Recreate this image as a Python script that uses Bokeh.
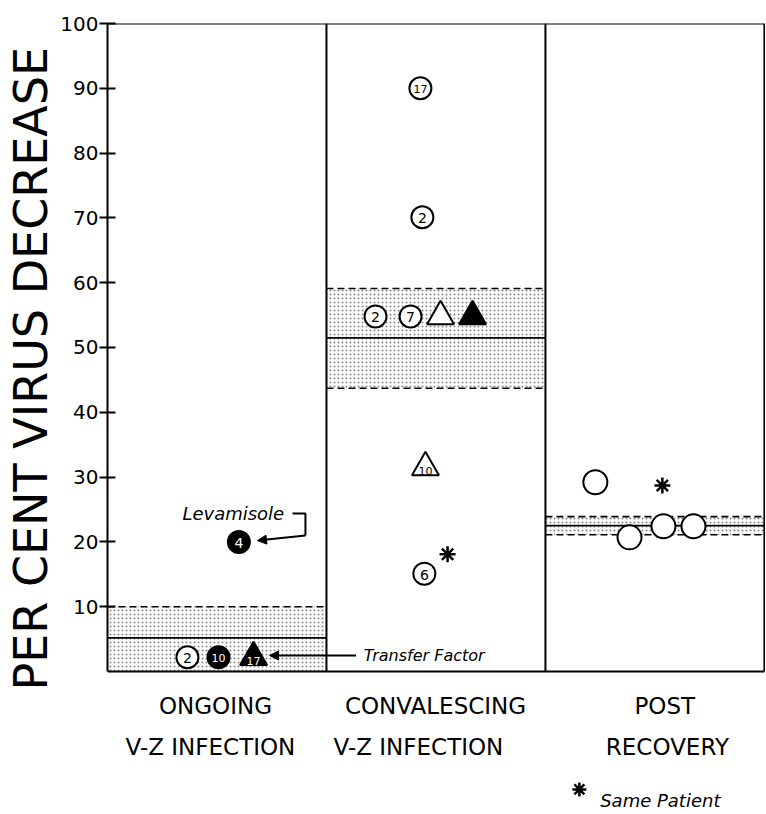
from bokeh.plotting import figure
from bokeh.models import Range1d, FixedTicker, Arrow, NormalHead, Title
from bokeh.core.properties import value
from bokeh.embed import file_html
from bokeh.resources import INLINE

# ---------------- data ----------------
cat_line1 = ["ONGOING", "CONVALESCING", "POST"]
cat_line2 = ["V-Z INFECTION", "V-Z INFECTION", "RECOVERY"]

band_low = [0.0, 43.7, 21.1]
band_high = [10.0, 59.1, 23.9]
band_mean = [5.2, 51.5, 22.5]

y_ticks = [10, 20, 30, 40, 50, 60, 70, 80, 90, 100]

# individual patients (group index, position within group, % decrease)
pt_group = [0, 0, 0, 0, 1, 1, 1, 1, 1, 1, 1, 1, 2, 2, 2, 2]
pt_offset = [0.365, 0.507, 0.667, 0.600, 0.429, 0.438, 0.224, 0.384, 0.521, 0.667, 0.452, 0.447,
             0.228, 0.384, 0.539, 0.676]
pt_value = [2.2, 2.2, 2.2, 20.0, 90.0, 70.1, 54.8, 54.8, 54.8, 54.8, 31.5, 15.1,
            29.2, 20.7, 22.4, 22.4]
pt_shape = ["circle", "circle", "triangle", "circle", "circle", "circle", "circle", "circle",
            "triangle", "triangle", "triangle", "circle", "circle", "circle", "circle", "circle"]
pt_filled = [False, True, True, True, False, False, False, False, False, True, False, False,
             False, False, False, False]
pt_label = ["2", "10", "17", "4", "17", "2", "2", "7", "", "", "10", "6", "", "", "", ""]

# same patient (asterisks)
star_group = [1, 2]
star_offset = [0.553, 0.534]
star_value = [18.1, 28.7]

# ---------------- figure ----------------
p = figure(width=765, height=812, output_backend="svg", toolbar_location=None,
           x_range=Range1d(0, 3.005), y_range=Range1d(-21.76, 100),
           x_axis_location=None, y_axis_location="left",
           min_border_left=107, min_border_right=0, min_border_top=23, min_border_bottom=0)
p.outline_line_color = None
p.grid.visible = False
p.background_fill_color = "white"

ax = p.yaxis[0]
ax.ticker = FixedTicker(ticks=y_ticks)
ax.bounds = (0, 100)
ax.axis_line_width = 2
ax.major_tick_line_width = 2
ax.major_tick_out = 8
ax.major_tick_in = 8
ax.minor_tick_line_color = None
ax.major_label_standoff = 1
ax.major_label_text_font = "DejaVu Sans"
ax.major_label_text_font_size = "20px"
ax.major_label_text_color = "black"

p.add_layout(Title(text="PER CENT VIRUS DECREASE", align="left", offset=122,
                   text_font="DejaVu Sans", text_font_size="46px", text_font_style="normal",
                   text_color="black", standoff=0), "left")

ngrp = len(cat_line1)
lefts = [i for i in range(ngrp)]
rights = [i + 1 for i in range(ngrp)]

# stippled bands
p.quad(left=lefts, right=rights, bottom=band_low, top=band_high,
       fill_color="white", line_color=None,
       hatch_pattern="dot", hatch_color="#222222", hatch_scale=4, hatch_weight=1, hatch_alpha=0.55)
p.segment(x0=lefts, x1=rights, y0=band_high, y1=band_high, line_color="black",
          line_width=1.6, line_dash="7 4")
p.segment(x0=lefts[1:], x1=rights[1:], y0=band_low[1:], y1=band_low[1:], line_color="black",
          line_width=1.6, line_dash="7 4")
p.segment(x0=lefts, x1=rights, y0=band_mean, y1=band_mean, line_color="black", line_width=1.8)

# frame
p.segment(x0=[0, 0], x1=[ngrp, ngrp], y0=[0, 100], y1=[0, 100], line_color="black", line_width=2)
p.segment(x0=rights, x1=rights, y0=[0] * ngrp, y1=[100] * ngrp, line_color="black", line_width=2)

# points
px = [g + o for g, o in zip(pt_group, pt_offset)]
psize = []
for g, s in zip(pt_group, pt_shape):
    if s == "triangle":
        psize.append(27)
    elif g == 2:
        psize.append(24)
    else:
        psize.append(22)
pfill = ["black" if f else "white" for f in pt_filled]
ptxt = ["white" if f else "black" for f in pt_filled]
pyoff = [4 if s == "triangle" else 1 for s in pt_shape]
pfs = ["11px" if (s == "triangle" or len(l) > 1) else "14px" for s, l in zip(pt_shape, pt_label)]
src = dict(x=px, y=pt_value, marker=pt_shape, size=psize, fill=pfill, tc=ptxt, label=pt_label,
           yoff=pyoff, fs=pfs)
p.scatter(x="x", y="y", marker="marker", size="size", fill_color="fill", line_color="black",
          line_width=2, source=src)
p.text(x="x", y="y", text="label", text_color="tc", text_align="center", text_baseline="middle",
       y_offset="yoff", text_font_size="fs", text_font_style="normal",
       text_font=value("DejaVu Sans"), source=src)

sx = [g + o for g, o in zip(star_group, star_offset)]
p.scatter(x=sx, y=star_value, marker="asterisk", size=16, line_color="black", line_width=2.5)

# category labels
c1x = [0.493, 1.498, 2.545]
c2x = [0.470, 1.420, 2.557]
p.text(x=c1x, y=[-5.25] * ngrp, text=cat_line1, text_align="center", text_baseline="middle",
       text_font=value("DejaVu Sans"), text_font_size="23px", text_color="black")
p.text(x=c2x, y=[-11.6] * ngrp, text=cat_line2, text_align="center", text_baseline="middle",
       text_font=value("DejaVu Sans"), text_font_size="23px", text_color="black")

# annotations
p.text(x=[0.342], y=[24.4], text=["Levamisole"], text_align="left", text_baseline="middle",
       text_font=value("DejaVu Sans"), text_font_style="italic", text_font_size="18px")
p.line(x=[0.845, 0.904, 0.904], y=[24.4, 24.4, 21.0], line_color="black", line_width=2)
p.add_layout(Arrow(x_start=0.904, y_start=21.0, x_end=0.685, y_end=20.2, line_width=2,
                   end=NormalHead(size=9, fill_color="black", line_color="black")))

p.text(x=[1.17], y=[2.47], text=["Transfer Factor"], text_align="left", text_baseline="middle",
       text_font=value("DejaVu Sans"), text_font_style="italic", text_font_size="16px")
p.add_layout(Arrow(x_start=1.135, y_start=2.47, x_end=0.74, y_end=2.47, line_width=2,
                   end=NormalHead(size=9, fill_color="black", line_color="black")))

p.scatter(x=[2.155], y=[-18.2], marker="asterisk", size=14, line_color="black", line_width=2.5)
p.text(x=[2.25], y=[-19.9], text=["Same Patient"], text_align="left", text_baseline="middle",
       text_font=value("DejaVu Sans"), text_font_style="italic", text_font_size="18px")

open("out.html", "w").write(file_html(p, INLINE))
